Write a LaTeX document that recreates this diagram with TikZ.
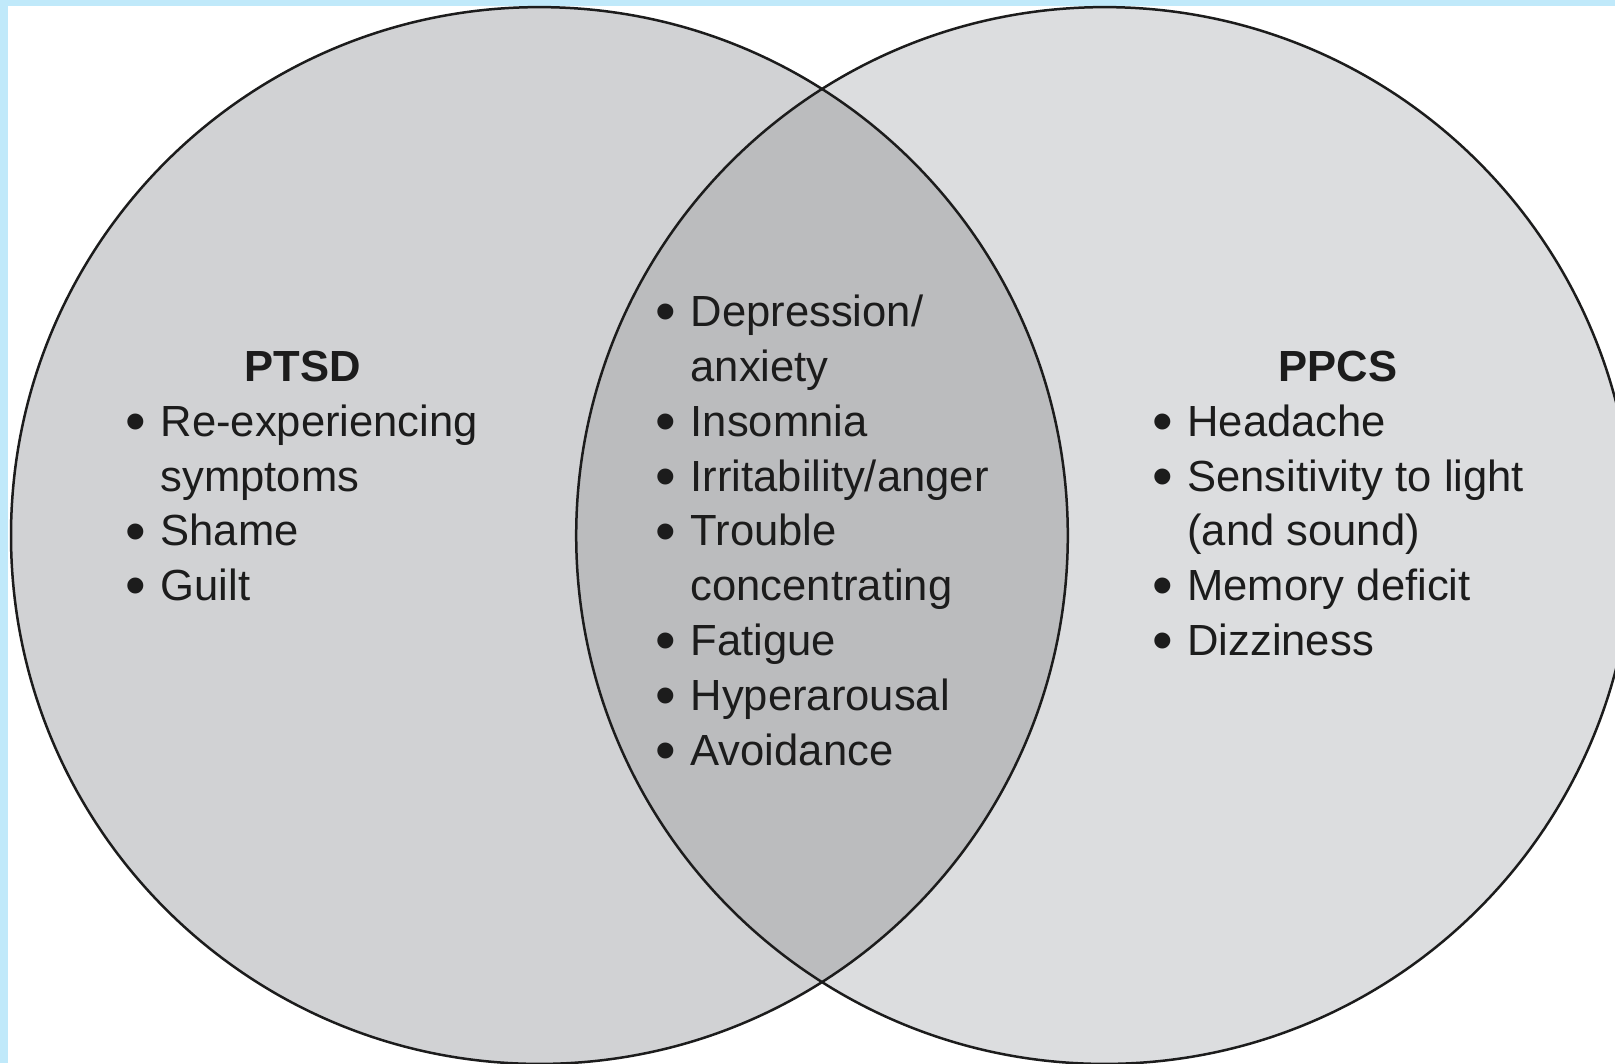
\documentclass[tikz,border=0pt]{standalone}
\usepackage{fontspec}
\setmainfont{Liberation Sans}
\definecolor{framecol}{HTML}{C0E9FA}
\definecolor{ptsdgray}{HTML}{D1D2D4}
\definecolor{ppcsgray}{HTML}{DCDDDF}
\definecolor{bothgray}{HTML}{BBBCBE}
\definecolor{inkcol}{HTML}{1C1C1C}
\newcommand{\vennrad}{52.84mm}
\newcommand{\bul}{\makebox[0.35em][c]{\raisebox{-0.12em}{\scalebox{1.35}{\textbullet}}}}
\newcommand{\symlist}[1]{\begin{tabular}[t]{@{}l@{\hspace{1.71mm}}l@{}}#1\end{tabular}}
\tikzset{
  ring/.style={draw=inkcol, line width=0.25mm},
  listtext/.style={inner sep=0pt, text=inkcol, anchor=base west,
    font=\fontsize{12.4}{15.59}\selectfont},
  headtext/.style={inner sep=0pt, text=inkcol, anchor=base,
    font=\fontsize{12.4}{15.59}\selectfont\bfseries}
}

\begin{document}
\begin{tikzpicture}[x=0.1mm,y=-0.1mm]
    \useasboundingbox (0,0) rectangle (1615,1063);
    \fill[framecol] (0,0) rectangle (1615,1063);
    \fill[white] (8,6) rectangle (1615,1063);

    \coordinate (L) at (539.4,535.5);
    \coordinate (R) at (1104.6,535.5);

    \fill[ptsdgray] (L) circle [radius=\vennrad];
    \fill[ppcsgray] (R) circle [radius=\vennrad];
    \begin{scope}
      \clip (L) circle [radius=\vennrad];
      \fill[bothgray] (R) circle [radius=\vennrad];
    \end{scope}
    \draw[ring] (L) circle [radius=\vennrad];
    \draw[ring] (R) circle [radius=\vennrad];

    \node [headtext] (ptsd) at (302.5,381.5) {PTSD};
    \node [listtext] (ptsdlist) at (127.6,436.3) {\symlist{%
      \bul & Re-experiencing\\
           & symptoms\\
      \bul & Shame\\
      \bul & Guilt}};

    \node [listtext] (bothlist) at (657.6,326.7) {\symlist{%
      \bul & Depression/\\
           & anxiety\\
      \bul & Insomnia\\
      \bul & Irritability/anger\\
      \bul & Trouble\\
           & concentrating\\
      \bul & Fatigue\\
      \bul & Hyperarousal\\
      \bul & Avoidance}};

    \node [headtext] (ppcs) at (1338,381.5) {PPCS};
    \node [listtext] (ppcslist) at (1154.3,436.3) {\symlist{%
      \bul & Headache\\
      \bul & Sensitivity to light\\
           & (and sound)\\
      \bul & Memory deficit\\
      \bul & Dizziness}};
\end{tikzpicture}
\end{document}
